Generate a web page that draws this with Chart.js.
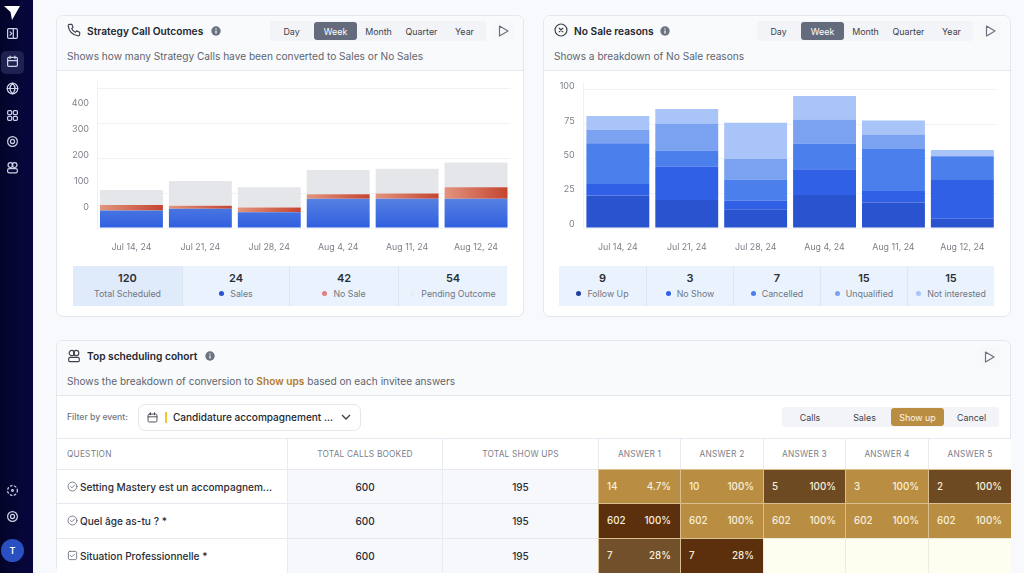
<!DOCTYPE html>
<html>
<head>
<meta charset="utf-8">
<title>Strategy calls</title>
<script src="https://cdn.jsdelivr.net/npm/chart.js@4/dist/chart.umd.js"></script>
<style>
  * { box-sizing: border-box; }
  html, body { margin: 0; padding: 0; width: 1024px; height: 573px; overflow: hidden; background: #f8f9fd; font-family: Inter, sans-serif; color: #23272f; }
  .abs { position: absolute; white-space: nowrap; }
  #sidebar { position: absolute; left: 0; top: 0; width: 33px; height: 573px; background: linear-gradient(90deg, #04042a, #070740); }
  #sidebar svg { position: absolute; left: 6px; width: 13px; height: 13px; }
  .card { position: absolute; background: #fff; border: 1px solid #e3e7ee; border-radius: 7px; overflow: hidden; }
  .head { position: absolute; left: 0; top: 0; right: 0; background: #f8fafc; border-bottom: 1px solid #e3e7ee; }
  .title { font-size: 10.2px; font-weight: 600; line-height: 14px; }
  .sub { font-size: 10.15px; line-height: 14px; color: #5f6570; }
  .seg { position: absolute; background: #f3f4f7; border-radius: 3px; }
  .seg span { position: absolute; top: 1px; bottom: 1px; text-align: center; font-size: 8.9px; color: #3d424c; border-radius: 3px; display: flex; align-items: center; justify-content: center; }
  .seg span.on { background: #646b7c; color: #fff; }
  .seg.gold span.on { background: #b98e42; color: #fdf5e3; }
  .play { position: absolute; background: #f7f8fa; border-radius: 3px; display: flex; align-items: center; justify-content: center; }
  .strip { position: absolute; background: #eaf3fd; }
  .cell { position: absolute; top: 0; bottom: 0; text-align: center; border-left: 1px solid #dfe6f0; }
  .cell b { display: block; font-size: 11px; font-weight: 600; line-height: 14px; margin-top: 5px; color: #2a2e36; }
  .cell i { display: block; font-style: normal; font-size: 8.8px; line-height: 12px; margin-top: 3px; color: #6f7682; }
  .dot { display: inline-block; width: 5px; height: 5px; border-radius: 50%; margin-right: 6px; vertical-align: 1px; }
  canvas { position: absolute; }
  .th { position: absolute; font-size: 8.3px; letter-spacing: .2px; color: #7a808a; text-align: center; line-height: 30px; height: 30px; border-left: 1px solid #e8ebf0; background: #fff; }
  .td { position: absolute; font-size: 10px; text-align: center; line-height: 34px; height: 35px; border-left: 1px solid #e8ebf0; border-top: 1px solid #e6e9ef; background: #f7f8fb; font-weight: 500; color: #2a2e36; }
  .q { position: absolute; font-size: 10.1px; line-height: 34px; height: 35px; border-top: 1px solid #e6e9ef; background: #fff; padding-left: 23px; color: #2a2e36; font-weight: 500; }
  .q svg { position: absolute; left: 10px; top: 11px; }
  .heat { position: absolute; height: 35px; font-size: 9.8px; line-height: 34px; font-weight: 500; color: #f8efdc; border-left: 1px solid #d8bf8d; border-top: 1px solid #d8bf8d; }
  .heat em { position: absolute; right: 9px; font-style: normal; }
  .heat u { position: absolute; left: 8px; text-decoration: none; }
</style>
</head>
<body>

<div id="sidebar"></div>

<div class="card" id="c1" style="left:56px;top:15px;width:468px;height:302px">
  <div class="head" style="height:55px"></div>
</div>
<div class="card" id="c2" style="left:543px;top:15px;width:468px;height:302px">
  <div class="head" style="height:55px"></div>
</div>
<div class="card" id="c3" style="left:56px;top:340px;width:955px;height:233px;border-bottom-right-radius:7px">
  <div class="head" style="height:55px"></div>
</div>

<canvas id="chartOutcomes" style="left:56px;top:68px;width:468px;height:194px"></canvas>
<canvas id="chartReasons" style="left:543px;top:68px;width:468px;height:194px"></canvas>

<script>
// chart data
var weeks = ['Jul 14, 24', 'Jul 21, 24', 'Jul 28, 24', 'Aug 4, 24', 'Aug 11, 24', 'Aug 12, 24'];

var sales = [50, 55, 45, 84, 84, 84];
var noSale = [16, 9, 14, 13, 15, 33];
var pending = [43, 71, 58, 70, 71, 71];
var outcomeGrid = [0, 100, 200, 300, 400];
var outcomeLabels = [0, 100, 200, 300, 400];

var followUp = [23.4, 20.3, 13.6, 23.9, 18.4, 6.7];
var noShow = [8.4, 23.9, 6, 18.6, 8.4, 27.9];
var cancelled = [29.4, 11.7, 15.5, 18.6, 30.3, 17.2];
var unqualified = [9.8, 19.6, 15, 17.2, 10.5, 0];
var notInterested = [10, 10.5, 26, 17, 10, 4.5];
var reasonGrid = [0, 25, 50, 75, 100];
var reasonLabels = [0, 25, 50, 75, 100];

// strips under the charts
var outcomeStrip = ['120', '24', '42', '54'];
var outcomeNames = ['Total Scheduled', 'Sales', 'No Sale', 'Pending Outcome'];
var outcomeDots = [null, '#2a53d0', '#e57f7f', '#e9ecf3'];
var reasonStrip = ['9', '3', '7', '15', '15'];
var reasonNames = ['Follow Up', 'No Show', 'Cancelled', 'Unqualified', 'Not interested'];
var reasonDots = ['#1f3f9e', '#2f60e6', '#4b7fec', '#7ba2f0', '#a8c4f8'];

// cohort table
var questions = ['Setting Mastery est un accompagnem...', 'Quel âge as-tu ? *', 'Situation Professionnelle *'];
var totalBooked = ['600', '600', '600'];
var totalShowUps = ['195', '195', '195'];
var answerHeads = ['ANSWER 1', 'ANSWER 2', 'ANSWER 3', 'ANSWER 4', 'ANSWER 5'];
var answerCounts = [['14', '10', '5', '3', '2'], ['602', '602', '602', '602', '602'], ['7', '7', '', '', '']];
var answerRates = [['4.7%', '100%', '100%', '100%', '100%'], ['100%', '100%', '100%', '100%', '100%'], ['28%', '28%', '', '', '']];
var answerColors = [
  ['#b98e42', '#b98e42', '#6e4a22', '#b98e42', '#6e4a22'],
  ['#5c300d', '#b98e42', '#b98e42', '#b98e42', '#b98e42'],
  ['#71502b', '#5c300d', '#fdfdf0', '#fdfdf0', '#fdfdf0']
];

function el(html) {
  var d = document.createElement('div');
  d.innerHTML = html;
  return d.firstElementChild;
}
function add(html) {
  document.body.appendChild(el(html));
}

var stroke = 'fill="none" stroke="#cfd3e6" stroke-width="1.5" stroke-linecap="round" stroke-linejoin="round"';
var sideIcons = [
  [27, '<rect x="2" y="2" width="12" height="12" rx="1.5"/><path d="M9 2v12M5 6l2 2-2 2"/>'],
  [55, '<rect x="2" y="3" width="12" height="11" rx="1.5"/><path d="M2 7h12M5 1.5v3M11 1.5v3"/>'],
  [82, '<circle cx="8" cy="8" r="6.5"/><path d="M1.5 8h13M8 1.5c-4 4-4 9 0 13M8 1.5c4 4 4 9 0 13"/>'],
  [109, '<rect x="2" y="2" width="5" height="5" rx="1.5"/><rect x="9" y="2" width="5" height="5" rx="1.5"/><rect x="2" y="9" width="5" height="5" rx="1.5"/><rect x="9" y="9" width="5" height="5" rx="1.5"/>'],
  [135, '<circle cx="8" cy="8" r="6"/><circle cx="8" cy="8" r="2.5"/>'],
  [161, '<circle cx="5.5" cy="5" r="3"/><circle cx="10.5" cy="5" r="3"/><rect x="2" y="9.5" width="12" height="5" rx="2"/>'],
  [484, '<circle cx="8" cy="8" r="6" stroke-dasharray="2 3"/><circle cx="8" cy="8" r="1"/>'],
  [510, '<circle cx="8" cy="8" r="6"/><circle cx="8" cy="8" r="2.5"/>']
];
var bar = document.getElementById('sidebar');
bar.appendChild(el('<div class="abs" style="left:1px;top:51px;width:23px;height:23px;border-radius:5px;background:#1f2250"></div>'));
bar.appendChild(el('<svg style="left:4px;top:6px;width:16px;height:14px" viewBox="0 0 16 14"><path d="M0 0h16L8 14 6.5 6z" fill="#fff"/></svg>'));
sideIcons.forEach(function (ic) {
  bar.appendChild(el('<svg style="top:' + ic[0] + 'px" viewBox="0 0 16 16" ' + stroke + '>' + ic[1] + '</svg>'));
});
bar.appendChild(el('<div class="abs" style="left:1px;top:539px;width:23px;height:23px;border-radius:50%;background:#2a4fc0;color:#fff;font-size:9px;font-weight:600;text-align:center;line-height:23px">T</div>'));

var grey = 'fill="none" stroke="#3a3f49" stroke-width="1.3" stroke-linecap="round" stroke-linejoin="round"';
var infoIcon = '<svg width="10" height="10" viewBox="0 0 10 10"><circle cx="5" cy="5" r="4.7" fill="#6b7280"/><path d="M5 4.4v3" stroke="#fff" stroke-width="1.2"/><circle cx="5" cy="2.9" r=".7" fill="#fff"/></svg>';
var playIcon = '<svg width="11" height="12" viewBox="0 0 11 12"><path d="M1.5 1l8.5 5-8.5 5z" fill="none" stroke="#6b7280" stroke-width="1.2" stroke-linejoin="round"/></svg>';

function cardHead(dx, icon, title, titleW, sub) {
  add('<svg class="abs" style="left:' + (67 + dx) + 'px;top:23px" width="14" height="14" viewBox="0 0 16 16" ' + grey + '>' + icon + '</svg>');
  add('<div class="abs title" style="left:' + (87 + dx) + 'px;top:24px">' + title + '</div>');
  add('<div class="abs" style="left:' + (87 + dx + titleW) + 'px;top:26px;line-height:0">' + infoIcon + '</div>');
  add('<div class="abs sub" style="left:' + (67 + dx) + 'px;top:49px">' + sub + '</div>');
  var names = ['Day', 'Week', 'Month', 'Quarter', 'Year'];
  var lefts = [0, 44, 87, 130, 173];
  var html = '<div class="seg" style="left:' + (270 + dx) + 'px;top:21px;width:216px;height:20px">';
  for (var i = 0; i < names.length; i++) {
    html += '<span class="' + (i == 1 ? 'on' : '') + '" style="left:' + lefts[i] + 'px;width:43px">' + names[i] + '</span>';
  }
  add(html + '</div>');
  add('<div class="play" style="left:' + (492 + dx) + 'px;top:21px;width:22px;height:20px">' + playIcon + '</div>');
}
cardHead(0, '<path d="M3 1.5l2.5 0 1.5 3.5-1.7 1.4c.8 1.8 2.2 3.2 4.2 4.2L11 9l3.5 1.5v2.5c0 1-1 1.8-2 1.6C6.5 13.6 2.4 9.500 1.400 3.500 1.200 2.500 2 1.500 3 1.500z"/>', 'Strategy Call Outcomes', 124, 'Shows how many Strategy Calls have been converted to Sales or No Sales');
cardHead(487, '<circle cx="8" cy="8" r="6.8"/><path d="M6 6l4 4M10 6l-4 4"/>', 'No Sale reasons', 86, 'Shows a breakdown of No Sale reasons');

function strip(left, width, edges, values, names, dots, firstDark) {
  var html = '<div class="strip" style="left:' + left + 'px;top:266px;width:' + width + 'px;height:40px">';
  for (var i = 0; i < values.length; i++) {
    var bg = (firstDark && i == 0) ? 'background:#dfeafa;border-left:0;' : (i == 0 ? 'border-left:0;' : '');
    var dot = dots[i] ? '<span class="dot" style="background:' + dots[i] + '"></span>' : '';
    html += '<div class="cell" style="left:' + edges[i] + 'px;width:' + (edges[i + 1] - edges[i]) + 'px;' + bg + '"><b>' + values[i] + '</b><i>' + dot + names[i] + '</i></div>';
  }
  add(html + '</div>');
}
strip(73, 434, [0, 109, 216, 325, 434], outcomeStrip, outcomeNames, outcomeDots, true);
strip(559, 435, [0, 87, 174, 261, 348, 435], reasonStrip, reasonNames, reasonDots, false);

// cohort card
add('<svg class="abs" style="left:67px;top:349px" width="14" height="14" viewBox="0 0 16 16" ' + grey + '><circle cx="5.500" cy="4.500" r="3"/><circle cx="10.500" cy="4.500" r="3"/><rect x="2" y="9.500" width="12" height="5" rx="1.500"/></svg>');
add('<div class="abs title" style="left:87px;top:349px">Top scheduling cohort</div>');
add('<div class="abs" style="left:205px;top:351px;line-height:0">' + infoIcon + '</div>');
add('<div class="play" style="left:979px;top:347px;width:21px;height:20px">' + playIcon + '</div>');
add('<div class="abs sub" style="left:67px;top:374px">Shows the breakdown of conversion to <b style="color:#b47b2a;font-weight:600">Show ups</b> based on each invitee answers</div>');
add('<div class="abs" style="left:67px;top:411px;font-size:8.6px;line-height:12px;color:#6f7682;font-weight:500">Filter by event:</div>');
add('<div class="abs" style="left:138px;top:404px;width:223px;height:27px;border:1px solid #e3e7ee;border-radius:7px;background:#fff"></div>');
add('<svg class="abs" style="left:147px;top:412px" width="11" height="11" viewBox="0 0 16 16" ' + grey + '><rect x="1.500" y="3" width="13" height="11.500" rx="2"/><path d="M1.500 7h13M5 1v3M11 1v3"/></svg>');
add('<div class="abs" style="left:165px;top:412px;width:2px;height:11px;background:#f5c33b"></div>');
add('<div class="abs" style="left:173px;top:410px;font-size:10.05px;line-height:14px;font-weight:500">Candidature accompagnement ...</div>');
add('<svg class="abs" style="left:341px;top:414px" width="10" height="7" viewBox="0 0 10 7"><path d="M1 1l4 4 4-4" fill="none" stroke="#3a3f49" stroke-width="1.300"/></svg>');
add('<div class="seg gold" style="left:782px;top:407px;width:217px;height:20px"><span style="left:0;width:56px">Calls</span><span style="left:56px;width:53px">Sales</span><span class="on" style="left:109px;width:53px">Show up</span><span style="left:162px;width:55px">Cancel</span></div>');

var colX = [56, 287, 442, 598, 680, 763, 845, 928, 1011];
var rowY = [469, 503, 538];
add('<div class="abs" style="left:56px;top:438px;width:955px;height:1px;background:#e6e9ef"></div>');
add('<div class="th" style="left:57px;top:439px;width:230px;border-left:0;text-align:left;padding-left:10px">QUESTION</div>');
add('<div class="th" style="left:287px;top:439px;width:155px">TOTAL CALLS BOOKED</div>');
add('<div class="th" style="left:442px;top:439px;width:156px">TOTAL SHOW UPS</div>');
answerHeads.forEach(function (h, j) {
  add('<div class="th" style="left:' + colX[3 + j] + 'px;top:439px;width:' + (colX[4 + j] - colX[3 + j]) + 'px">' + h + '</div>');
});
var qIcons = ['<circle cx="8" cy="8" r="6.500"/><path d="M5 8l2 2 4-4"/>', '<circle cx="8" cy="8" r="6.500"/><path d="M5 8l2 2 4-4"/>', '<rect x="2" y="2" width="12" height="12" rx="2"/><path d="M5 8l2 2 4-4"/>'];
questions.forEach(function (q, r) {
  var top = rowY[r];
  add('<div class="q" style="left:57px;top:' + top + 'px;width:230px"><svg width="11" height="11" viewBox="0 0 16 16" fill="none" stroke="#6b7280" stroke-width="1.300" stroke-linecap="round" stroke-linejoin="round">' + qIcons[r] + '</svg>' + q + '</div>');
  add('<div class="td" style="left:287px;top:' + top + 'px;width:155px">' + totalBooked[r] + '</div>');
  add('<div class="td" style="left:442px;top:' + top + 'px;width:156px">' + totalShowUps[r] + '</div>');
  answerColors[r].forEach(function (c, j) {
    var border = c == '#fdfdf0' ? 'border-color:#ecede0;' : '';
    add('<div class="heat" style="left:' + colX[3 + j] + 'px;top:' + top + 'px;width:' + (colX[4 + j] - colX[3 + j]) + 'px;background:' + c + ';' + border + '"><u>' + answerCounts[r][j] + '</u><em>' + answerRates[r][j] + '</em></div>');
  });
});

// keeps the tick labels where they sit in the reference, they dont line up with the grid
function useTicks(list) {
  return function (scale) {
    scale.ticks = list.map(function (v) { return { value: v }; });
  };
}
function fixWidth(w) {
  return function (scale) { scale.width = w; };
}

function chartOptions(cfg) {
  return {
    responsive: false,
    animation: false,
    layout: { autoPadding: false, padding: { top: 0, right: cfg.padRight, bottom: 0, left: 0 } },
    plugins: { legend: { display: false }, tooltip: { enabled: false } },
    scales: {
      x: {
        stacked: true,
        grid: { display: false, drawTicks: false },
        border: { display: false },
        ticks: { color: '#7d8189', font: { family: 'Inter', size: 8.8 }, padding: 14, maxRotation: 0, autoSkip: false },
        afterFit: function (scale) { scale.height = 34; }
      },
      y: {
        stacked: true,
        min: 0,
        max: cfg.max,
        position: 'left',
        grid: { color: '#f1f2f5', drawTicks: false },
        border: { display: true, color: '#f0f1f4' },
        ticks: { display: false },
        afterBuildTicks: useTicks(cfg.grid),
        afterFit: fixWidth(0)
      },
      yLabels: {
        axis: 'y',
        type: 'linear',
        min: cfg.labelMin,
        max: cfg.labelMax,
        position: 'left',
        grid: { display: false, drawTicks: false },
        border: { display: false },
        ticks: { color: '#7d8189', font: { family: 'Inter', size: 9 }, padding: cfg.tickPad, autoSkip: false },
        afterBuildTicks: useTicks(cfg.labels),
        afterFit: fixWidth(cfg.leftWidth)
      }
    }
  };
}

function blueFill(ctx) {
  var area = ctx.chart.chartArea;
  if (!area) return '#4472e2';
  var g = ctx.chart.ctx.createLinearGradient(0, ctx.chart.scales.y.getPixelForValue(90), 0, area.bottom);
  g.addColorStop(0, '#5a83e2');
  g.addColorStop(1, '#2f5fe0');
  return g;
}
function redFill(ctx) {
  var area = ctx.chart.chartArea;
  if (!area) return '#d06a55';
  var x = ctx.chart.scales.x.getPixelForValue(ctx.dataIndex);
  var g = ctx.chart.ctx.createLinearGradient(x - 32, 0, x + 32, 0);
  g.addColorStop(0, '#e2957f');
  g.addColorStop(1, '#c4442f');
  return g;
}

var barShape = { barPercentage: 0.913, categoryPercentage: 1, borderWidth: 0 };

new Chart(document.getElementById('chartOutcomes'), {
  type: 'bar',
  data: {
    labels: weeks,
    datasets: [
      Object.assign({ label: 'Sales', data: sales, backgroundColor: blueFill }, barShape),
      Object.assign({ label: 'No Sale', data: noSale, backgroundColor: redFill }, barShape),
      Object.assign({ label: 'Pending Outcome', data: pending, backgroundColor: '#e5e6e9' }, barShape)
    ]
  },
  options: chartOptions({ max: 421.5, grid: outcomeGrid, labels: outcomeLabels, labelMin: -80.8, labelMax: 483.8, leftWidth: 41, padRight: 13.5, tickPad: 8 })
});

new Chart(document.getElementById('chartReasons'), {
  type: 'bar',
  data: {
    labels: weeks,
    datasets: [
      Object.assign({ label: 'Follow Up', data: followUp, backgroundColor: '#2a53d0' }, barShape),
      Object.assign({ label: 'No Show', data: noShow, backgroundColor: '#2f60e6' }, barShape),
      Object.assign({ label: 'Cancelled', data: cancelled, backgroundColor: '#4b7fec' }, barShape),
      Object.assign({ label: 'Unqualified', data: unqualified, backgroundColor: '#7ba2f0' }, barShape),
      Object.assign({ label: 'Not interested', data: notInterested, backgroundColor: '#a8c4f8' }, barShape)
    ]
  },
  options: chartOptions({ max: 105.4, grid: reasonGrid, labels: reasonLabels, labelMin: -2.9, labelMax: 103.3, leftWidth: 40.4, padRight: 14.2, tickPad: 8.7 })
});
</script>
</body>
</html>
